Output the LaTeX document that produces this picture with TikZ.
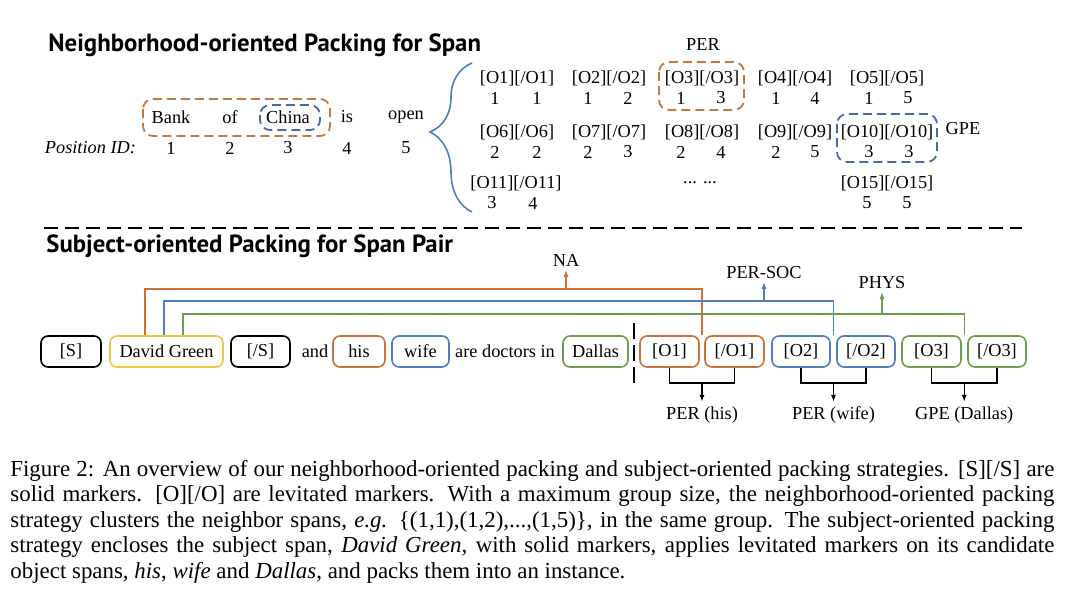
\documentclass[tikz,border=0pt]{standalone}
\usepackage{fontspec}
\setmainfont{Liberation Serif}
\newfontfamily\headfont{PT Sans}
\usetikzlibrary{positioning,calc,arrows.meta,decorations.pathreplacing}

\definecolor{spanorange}{HTML}{C8733A}
\definecolor{spanblue}{HTML}{4F7FBF}
\definecolor{spangreen}{HTML}{6D9B4F}
\definecolor{spanyellow}{HTML}{F3C544}
\definecolor{groupblue}{HTML}{4A68A8}
\definecolor{groupbrown}{HTML}{C27A45}

\newlength{\capw}
\setlength{\capw}{522pt}

\begin{document}
\begin{tikzpicture}[x=0.5pt,y=-0.5pt,font=\fontsize{9.15}{11}\selectfont,
		head/.style={anchor=west,inner sep=0pt,font=\headfont\bfseries\fontsize{12.4}{14}\selectfont},
		tok/.style={draw=#1,rounded corners=3.5pt,line width=0.8pt,minimum height=15.5pt,inner sep=0pt},
		link/.style={line width=0.8pt},
		tip/.style={-{Latex[length=3.5pt,width=2.6pt]},line width=0.7pt},
		group/.style={dash pattern=on 4.5pt off 2.5pt,line width=0.9pt,rounded corners=5pt}]
		\useasboundingbox (0,0) rectangle (1080,610);

		% neighborhood-oriented packing
		\node[head] (headSpan) at (48,45) {Neighborhood-oriented Packing for Span};

		\node (wBank) at (171,117) {Bank};
		\node (wOf) at (230,117) {of};
		\node (wChina) at (288,117) {China};
		\node (wIs) at (347,117) {is};
		\node (wOpen) at (406,117) {open};

		\node[anchor=east,font=\fontsize{9.15}{11}\selectfont\itshape] (posLabel) at (143,148) {Position ID:};
		\node (pos1) at (171,148) {1};
		\node (pos2) at (230,148) {2};
		\node (pos3) at (288,148) {3};
		\node (pos4) at (347,148) {4};
		\node (pos5) at (406,148) {5};

		\draw[group,groupbrown] (143,99) rectangle (330,136);
		\draw[group,groupblue] (260,105) rectangle (320,130);

		\draw[spanblue,line width=0.8pt,decorate,decoration={brace,amplitude=21pt,aspect=0.537}] (472,212) -- (472,63);

		\node (c1) at (517,78) {[O1][/O1]};
		\node (c1s) at (495,98) {1};
		\node (c1e) at (537,98) {1};
		\node (c2) at (609,78) {[O2][/O2]};
		\node (c2s) at (588,98) {1};
		\node (c2e) at (628,98) {2};
		\node (c3) at (702,78) {[O3][/O3]};
		\node (c3s) at (681,98) {1};
		\node (c3e) at (721,98) {3};
		\node (c4) at (795,78) {[O4][/O4]};
		\node (c4s) at (776,98) {1};
		\node (c4e) at (815,98) {4};
		\node (c5) at (887,78) {[O5][/O5]};
		\node (c5s) at (869,98) {1};
		\node (c5e) at (908,98) {5};

		\node (c6) at (517,132) {[O6][/O6]};
		\node (c6s) at (495,152) {2};
		\node (c6e) at (537,152) {2};
		\node (c7) at (609,132) {[O7][/O7]};
		\node (c7s) at (588,152) {2};
		\node (c7e) at (628,152) {3};
		\node (c8) at (702,132) {[O8][/O8]};
		\node (c8s) at (681,152) {2};
		\node (c8e) at (721,152) {4};
		\node (c9) at (795,132) {[O9][/O9]};
		\node (c9s) at (776,152) {2};
		\node (c9e) at (815,152) {5};
		\node (c10) at (887,132) {[O10][/O10]};
		\node (c10s) at (869,152) {3};
		\node (c10e) at (909,152) {3};

		\node (c11) at (516,183) {[O11][/O11]};
		\node (c11s) at (492,203) {3};
		\node (c11e) at (533,203) {4};
		\node (cDots) at (700,183) {... ...};
		\node (c15) at (887,183) {[O15][/O15]};
		\node (c15s) at (867,203) {5};
		\node (c15e) at (907,203) {5};

		\node (perLabel) at (703,45) {PER};
		\draw[group,groupbrown] (659,62) rectangle (744,110);
		\node (gpeLabel) at (963,129) {GPE};
		\draw[group,groupblue] (837,114) rectangle (937,162);

		\draw[line width=1pt,dash pattern=on 7pt off 3.5pt] (44,228) -- (1022,228);

		% subject-oriented packing
		\node[head] (headPair) at (46,246) {Subject-oriented Packing for Span Pair};

		\node[tok=black,minimum width=30pt] (sOpen) at (71,351.5) {[S]};
		\node[tok=spanyellow,minimum width=56.5pt] (dg) at (166.5,351.5) {David Green};
		\node[tok=black,minimum width=29.5pt] (sClose) at (260.5,351.5) {[/S]};
		\node (wAnd) at (315,351.5) {and};
		\node[tok=spanorange,minimum width=26pt] (his) at (359,351.5) {his};
		\node[tok=spanblue,minimum width=28.5pt] (wife) at (420.5,351.5) {wife};
		\node (wDoc) at (505,351.5) {are doctors in};
		\node[tok=spangreen,minimum width=32.5pt] (dallas) at (595.5,351.5) {Dallas};
		\draw[line width=1pt,dash pattern=on 8pt off 3pt] (634,323) -- (634,387);
		\node[tok=spanorange,minimum width=29.5pt] (o1) at (669.5,351.5) {[O1]};
		\node[tok=spanorange,minimum width=29.5pt] (o1e) at (734.5,351.5) {[/O1]};
		\node[tok=spanblue,minimum width=29pt] (o2) at (801,351.5) {[O2]};
		\node[tok=spanblue,minimum width=29pt] (o2e) at (866,351.5) {[/O2]};
		\node[tok=spangreen,minimum width=29.5pt] (o3) at (931.5,351.5) {[O3]};
		\node[tok=spangreen,minimum width=29pt] (o3e) at (997,351.5) {[/O3]};

		% relation links
		\coordinate (naFoot) at (566,289);
		\coordinate (socFoot) at (764,301);
		\coordinate (physFoot) at (882,314);
		\draw[link,spanorange] ([xshift=-10.75pt]dg.north) |- (naFoot) -| ($(o1.north east)!.5!(o1e.north west)$);
		\draw[link,spanblue] ([xshift=-1.25pt]dg.north) |- (socFoot) -| ($(o2.north east)!.5!(o2e.north west)$);
		\draw[link,spangreen] ([xshift=8.25pt]dg.north) |- (physFoot) -| ($(o3.north east)!.5!(o3e.north west)$);
		\node[anchor=south,inner sep=1.5pt] (naTag) at (566,270) {NA};
		\node[anchor=south,inner sep=1.5pt] (socTag) at (764,282) {PER-SOC};
		\node[anchor=south,inner sep=1.5pt] (physTag) at (882,292) {PHYS};
		\draw[tip,spanorange] (naFoot) -- (naTag.south);
		\draw[tip,spanblue] (socFoot) -- (socTag.south);
		\draw[tip,spangreen] (physFoot) -- (physTag.south);

		% entity types
		\draw[line width=0.7pt] (o1.south) -- ++(0,15) -| (o1e.south);
		\draw[line width=0.7pt] (o2.south) -- ++(0,15) -| (o2e.south);
		\draw[line width=0.7pt] (o3.south) -- ++(0,15) -| (o3e.south);
		\coordinate (hisFoot) at ($(o1.south)!.5!(o1e.south)+(0,15)$);
		\coordinate (wifeFoot) at ($(o2.south)!.5!(o2e.south)+(0,15)$);
		\coordinate (dallasFoot) at ($(o3.south)!.5!(o3e.south)+(0,15)$);
		\draw[tip] (hisFoot) -- ++(0,19) node[below,inner sep=2pt] (hisTag) {PER (his)};
		\draw[tip] (wifeFoot) -- ++(0,19) node[below,inner sep=2pt] (wifeTag) {PER (wife)};
		\draw[tip] (dallasFoot) -- ++(0,19) node[below,inner sep=2pt] (dallasTag) {GPE (Dallas)};

		% caption
		\node[anchor=north west,inner sep=0pt,align=left,font=\fontsize{11.45}{12.7}\selectfont] (caption) at (10,460) {%
			\makebox[\capw][s]{Figure 2: An overview of our neighborhood-oriented packing and subject-oriented packing strategies. [S][/S] are}\\
			\makebox[\capw][s]{solid markers.  [O][/O] are levitated markers.  With a maximum group size, the neighborhood-oriented packing}\\
			\makebox[\capw][s]{strategy clusters the neighbor spans, \textit{e.g.} \{(1,1),(1,2),...,(1,5)\}, in the same group.  The subject-oriented packing}\\
			\makebox[\capw][s]{strategy encloses the subject span, \textit{David Green}, with solid markers, applies levitated markers on its candidate}\\
			object spans, \textit{his}, \textit{wife} and \textit{Dallas}, and packs them into an instance.};
	\end{tikzpicture}
\end{document}
